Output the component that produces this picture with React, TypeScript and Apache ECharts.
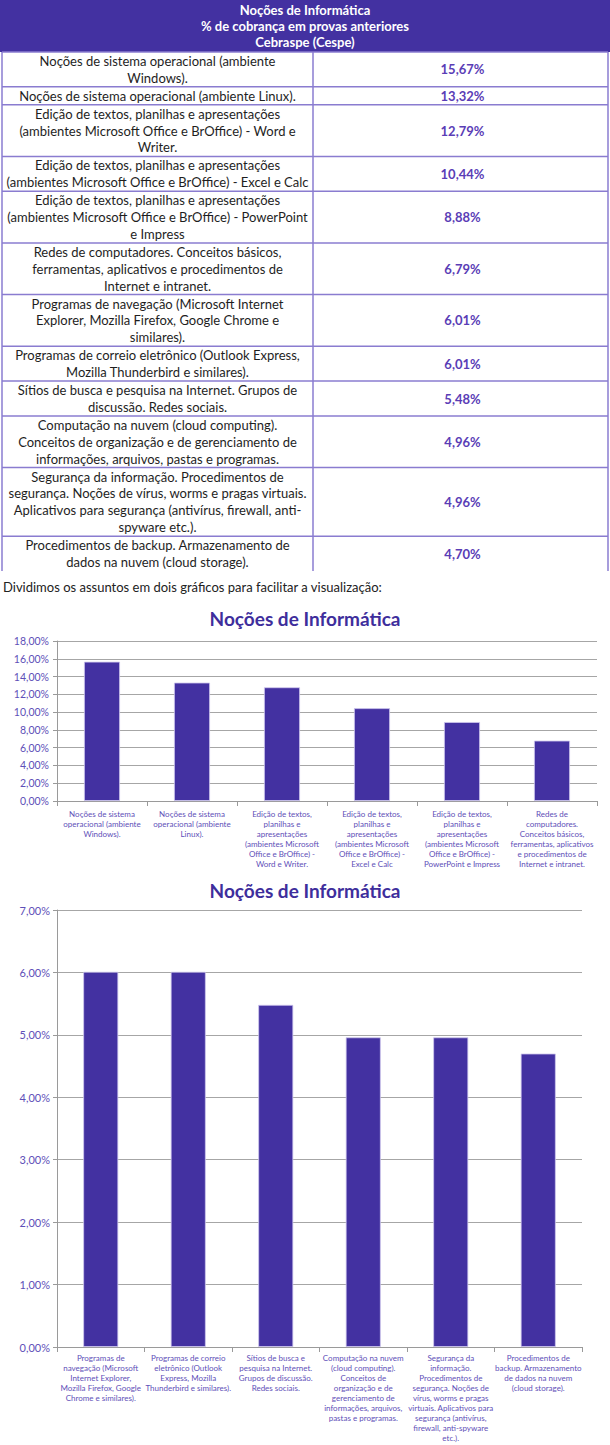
import React, { useEffect, useRef } from "react";
import * as echarts from "echarts";

const headerLines = ["Noções de Informática", "% de cobrança em provas anteriores", "Cebraspe (Cespe)"];

const tableTopics = [
  "Noções de sistema operacional (ambiente\nWindows).",
  "Noções de sistema operacional (ambiente Linux).",
  "Edição de textos, planilhas e apresentações\n(ambientes Microsoft Office e BrOffice) - Word e\nWriter.",
  "Edição de textos, planilhas e apresentações\n(ambientes Microsoft Office e BrOffice) - Excel e Calc",
  "Edição de textos, planilhas e apresentações\n(ambientes Microsoft Office e BrOffice) - PowerPoint\ne Impress",
  "Redes de computadores. Conceitos básicos,\nferramentas, aplicativos e procedimentos de\nInternet e intranet.",
  "Programas de navegação (Microsoft Internet\nExplorer, Mozilla Firefox, Google Chrome e\nsimilares).",
  "Programas de correio eletrônico (Outlook Express,\nMozilla Thunderbird e similares).",
  "Sítios de busca e pesquisa na Internet. Grupos de\ndiscussão. Redes sociais.",
  "Computação na nuvem (cloud computing).\nConceitos de organização e de gerenciamento de\ninformações, arquivos, pastas e programas.",
  "Segurança da informação. Procedimentos de\nsegurança. Noções de vírus, worms e pragas virtuais.\nAplicativos para segurança (antivírus, firewall, anti-\nspyware etc.).",
  "Procedimentos de backup. Armazenamento de\ndados na nuvem (cloud storage).",
];

const shares = [15.67, 13.32, 12.79, 10.44, 8.88, 6.79, 6.01, 6.01, 5.48, 4.96, 4.96, 4.7];

const introText = "Dividimos os assuntos em dois gráficos para facilitar a visualização:";
const chartTitle = "Noções de Informática";

const chart1Categories = [
  "Noções de sistema\noperacional (ambiente\nWindows).",
  "Noções de sistema\noperacional (ambiente\nLinux).",
  "Edição de textos,\nplanilhas e\napresentações\n(ambientes Microsoft\nOffice e BrOffice) -\nWord e Writer.",
  "Edição de textos,\nplanilhas e\napresentações\n(ambientes Microsoft\nOffice e BrOffice) -\nExcel e Calc",
  "Edição de textos,\nplanilhas e\napresentações\n(ambientes Microsoft\nOffice e BrOffice) -\nPowerPoint e Impress",
  "Redes de\ncomputadores.\nConceitos básicos,\nferramentas, aplicativos\ne procedimentos de\nInternet e intranet.",
];
const chart1Values = shares.slice(0, 6);

const chart2Categories = [
  "Programas de\nnavegação (Microsoft\nInternet Explorer,\nMozilla Firefox, Google\nChrome e similares).",
  "Programas de correio\neletrônico (Outlook\nExpress, Mozilla\nThunderbird e similares).",
  "Sítios de busca e\npesquisa na Internet.\nGrupos de discussão.\nRedes sociais.",
  "Computação na nuvem\n(cloud computing).\nConceitos de\norganização e de\ngerenciamento de\ninformações, arquivos,\npastas e programas.",
  "Segurança da\ninformação.\nProcedimentos de\nsegurança. Noções de\nvírus, worms e pragas\nvirtuais. Aplicativos para\nsegurança (antivírus,\nfirewall, anti-spyware\netc.).",
  "Procedimentos de\nbackup. Armazenamento\nde dados na nuvem\n(cloud storage).",
];
const chart2Values = shares.slice(6, 12);

const PURPLE = "#4331a1";
const LABEL = "#5e4fb8";
const BORDER = "#8a7cd0";
const tableFont = "Lato, 'Open Sans', sans-serif";
const chartFont = "Lato, 'DejaVu Sans', sans-serif";

const fmt = (v: number) => v.toFixed(2).replace(".", ",") + "%";

export default function App() {
  const ref = useRef<HTMLDivElement>(null);
  useEffect(() => {
    document.body.style.margin = "0";
    const chart = echarts.init(ref.current!, undefined, { renderer: "svg" });

    const W = 610;
    const headerH = 52;
    const lineH = 16.9;
    const divX = 313;
    const graphic: any[] = [];
    graphic.push({ type: "rect", shape: { x: 0, y: 0, width: W, height: headerH }, style: { fill: PURPLE } });
    headerLines.forEach((t, i) => {
      graphic.push({
        type: "text",
        x: W / 2,
        y: 9.5 + i * 16.2,
        style: { text: t, align: "center", verticalAlign: "middle", fill: "#ffffff", font: `bold 13px ${tableFont}` },
      });
    });
    let y = headerH;
    tableTopics.forEach((t, i) => {
      const n = t.split("\n").length;
      const h = n * lineH + 1;
      graphic.push({
        type: "text",
        x: divX / 2 + 1,
        y: y + h / 2,
        style: { text: t, align: "center", verticalAlign: "middle", fill: "#1e1e1e", font: `13px ${tableFont}`, lineHeight: lineH },
      });
      graphic.push({
        type: "text",
        x: (divX + 608) / 2 + 2,
        y: y + h / 2,
        style: { text: fmt(shares[i]), align: "center", verticalAlign: "middle", fill: "#5a3db6", font: `bold 13px ${tableFont}` },
      });
      if (i > 0) {
        graphic.push({ type: "line", shape: { x1: 2, y1: y, x2: 608, y2: y }, style: { stroke: BORDER, lineWidth: 1.5 } });
      }
      y += h;
    });
    const tableBottom = y;
    [2, divX, 608].forEach((x) => {
      graphic.push({ type: "line", shape: { x1: x, y1: headerH, x2: x, y2: tableBottom }, style: { stroke: BORDER, lineWidth: 1.5 } });
    });
    graphic.push({ type: "line", shape: { x1: 2, y1: headerH, x2: 608, y2: headerH }, style: { stroke: BORDER, lineWidth: 1.5 } });
    graphic.push({
      type: "text",
      x: 3,
      y: 587,
      style: { text: introText, align: "left", verticalAlign: "middle", fill: "#222", font: `13px ${tableFont}` },
    });

    const yLabel = (size: number, margin: number) => ({ color: LABEL, fontSize: size, fontFamily: chartFont, margin, formatter: (v: number) => fmt(v) });
    const xLabel = (margin: number) => ({
      interval: 0,
      color: LABEL,
      fontSize: 8,
      lineHeight: 10,
      fontFamily: chartFont,
      margin,
    });
    const axisLine = { show: true, lineStyle: { color: "#9a9a9a", width: 1 } };

    chart.setOption({
      animation: false,
      backgroundColor: "#ffffff",
      title: [
        { text: chartTitle, left: "center", top: 604, textStyle: { color: "#3e2e9c", fontSize: 19, fontWeight: "bold", fontFamily: chartFont } },
        { text: chartTitle, left: "center", top: 876, textStyle: { color: "#3e2e9c", fontSize: 19, fontWeight: "bold", fontFamily: chartFont } },
      ],
      graphic,
      grid: [
        { left: 57, right: 13, top: 641, height: 160 },
        { left: 57, right: 28, top: 910, height: 437 },
      ],
      xAxis: [
        { type: "category", gridIndex: 0, data: chart1Categories, axisLabel: xLabel(8), axisLine, axisTick: { show: true, lineStyle: { color: "#9a9a9a" } } },
        { type: "category", gridIndex: 1, data: chart2Categories, axisLabel: xLabel(6), axisLine, axisTick: { show: true, lineStyle: { color: "#9a9a9a" } } },
      ],
      yAxis: [
        {
          type: "value", gridIndex: 0, min: 0, max: 18, interval: 2,
          axisLabel: yLabel(10.5, 8), axisLine, axisTick: { show: true, length: 4, lineStyle: { color: "#9a9a9a" } },
          splitLine: { lineStyle: { color: "#a6a6a6", width: 1.2 } },
        },
        {
          type: "value", gridIndex: 1, min: 0, max: 7, interval: 1,
          axisLabel: yLabel(11, 7), axisLine, axisTick: { show: true, length: 4, lineStyle: { color: "#9a9a9a" } },
          splitLine: { lineStyle: { color: "#a6a6a6", width: 1.2 } },
        },
      ],
      series: [
        {
          type: "bar", xAxisIndex: 0, yAxisIndex: 0, data: chart1Values, barWidth: "40%",
          itemStyle: { color: PURPLE, borderColor: "#cfc8ee", borderWidth: 0.8 },
        },
        {
          type: "bar", xAxisIndex: 1, yAxisIndex: 1, data: chart2Values, barWidth: "40%",
          itemStyle: { color: PURPLE, borderColor: "#cfc8ee", borderWidth: 0.8 },
        },
      ],
    });
    return () => chart.dispose();
  }, []);
  return <div ref={ref} style={{ width: 610, height: 1445 }} />;
}
